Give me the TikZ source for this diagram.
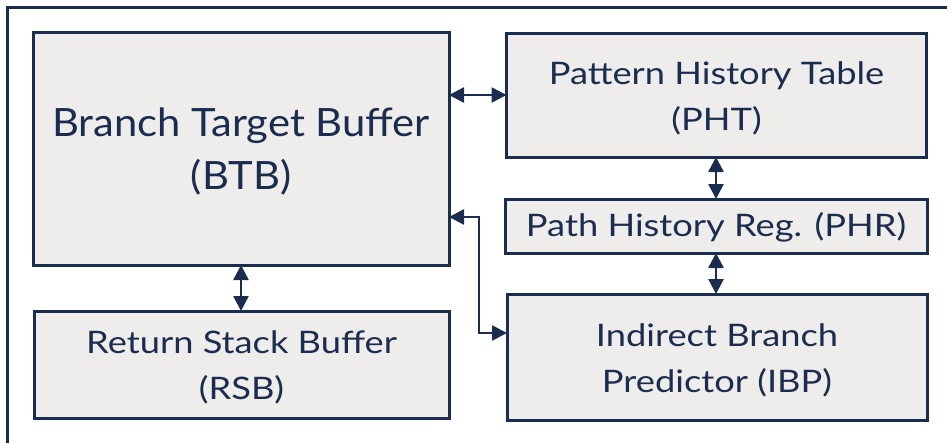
\documentclass[tikz,border=0pt]{standalone}
\usepackage{fontspec}
\setmainfont{Lato}
\newfontfamily\bigfam[FakeStretch=1.07]{Lato}
\newfontfamily\smallfam[FakeStretch=1.17]{Lato}
\usetikzlibrary{arrows.meta}
\definecolor{navy}{HTML}{1B2D4F}
\definecolor{boxfill}{HTML}{EFEDEC}
\tikzset{
  unit/.style={inner sep=0pt, outer sep=0pt, draw=navy, fill=boxfill, line width=3pt},
  caption/.style={inner sep=0pt, text=navy, align=center},
  bigtext/.style={caption, font=\bigfam\fontsize{39}{53}\selectfont},
  smalltext/.style={caption, font=\smallfam\fontsize{31}{46}\selectfont},
  link/.style={draw=navy, line width=2.6pt, {Triangle[length=15pt,width=15pt]}-{Triangle[length=15pt,width=15pt]}},
}
\begin{document}
\begin{tikzpicture}[x=1pt, y=-1pt]
  \useasboundingbox (0,0) rectangle (947,442);
  \clip (0,0) rectangle (947,442);
  % outer frame, running off the page on the right and at the bottom
  \draw[navy, line width=3.5pt] (960,7.5) -- (7.5,7.5) -- (7.5,460);

  % predictor structures
  \node[unit, minimum width=416pt, minimum height=233pt] (btb) at (241,148.5) {};
  \node[unit, minimum width=420pt, minimum height=124pt] (pht) at (716.5,95) {};
  \node[unit, minimum width=422pt, minimum height=54pt] (phr) at (716,226) {};
  \node[unit, minimum width=420pt, minimum height=126pt] (ibp) at (717,357) {};
  \node[unit, minimum width=415pt, minimum height=107pt] (rsb) at (241.5,364.5) {};

  % their names
  \node[bigtext] (btbname) at ([yshift=-3pt]btb.center) {Branch Target Buffer\\(BTB)};
  \node[smalltext] (phtname) at ([yshift=-3pt]pht.center) {Pattern History Table\\(PHT)};
  \node[smalltext] (phrname) at ([yshift=-1pt]phr.center) {Path History Reg. (PHR)};
  \node[smalltext] (ibpname) at ([yshift=-3pt]ibp.center) {Indirect Branch\\Predictor (IBP)};
  \node[smalltext] (rsbname) at ([yshift=-3pt]rsb.center) {Return Stack Buffer\\(RSB)};

  % bend points of the BTB--IBP link
  \coordinate (bendA) at (479,217);
  \coordinate (bendB) at (479,333);

  % connections
  \draw[link] (btb.east |- pht.west) -- (pht.west);
  \draw[link] (pht.south -| phr.north) -- (phr.north);
  \draw[link] (phr.south) -- (ibp.north -| phr.south);
  \draw[link] (btb.south) -- (rsb.north -| btb.south);
  \draw[link] (btb.east |- bendA) -- (bendA) -- (bendB) -- (ibp.west |- bendB);
\end{tikzpicture}
\end{document}
